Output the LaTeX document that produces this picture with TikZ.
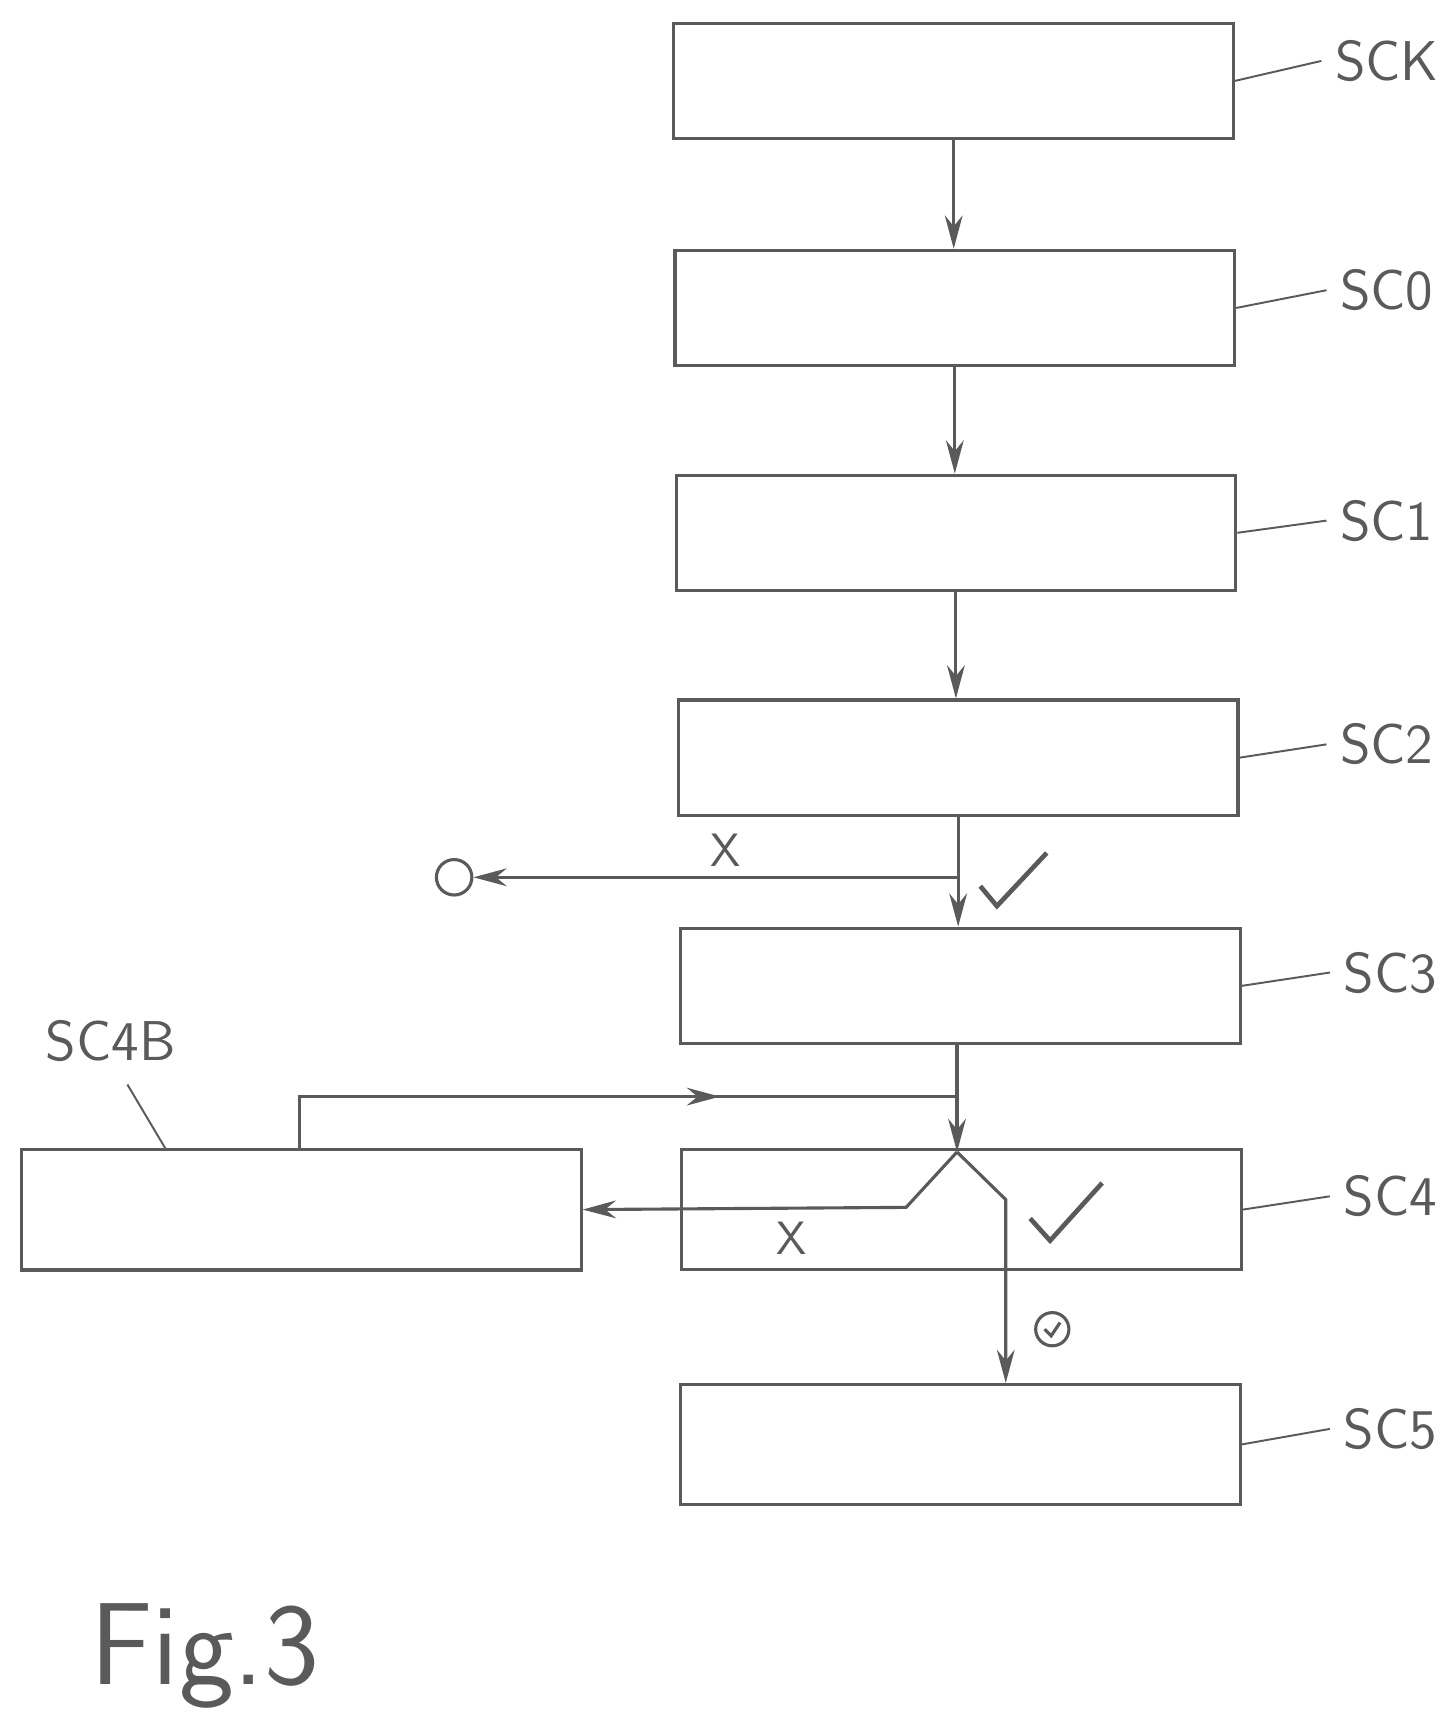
\documentclass[tikz,border=0pt]{standalone}
\usepackage{tikz}
\usetikzlibrary{arrows.meta, positioning}
\definecolor{ink}{RGB}{90, 90, 90}

\begin{document}
\begin{tikzpicture}[
    x=0.01cm, y=-0.01cm,
    box/.style={rectangle, draw=ink, line width=0.8pt, minimum width=5.05cm, minimum height=1.04cm, inner sep=0pt},
    arrow/.style={-{Stealth[length=3mm, width=1.6mm]}, line width=0.8pt, color=ink},
    line/.style={line width=0.8pt, color=ink},
    label/.style={font=\sffamily\Large, color=ink},
    lead/.style={line width=0.5pt, color=ink}
]
\useasboundingbox (0,0) rectangle (1300,1551);

% main column
\node[box] (sck) at (861, 73) {};
\node[box] (sc0) at (862, 278) {};
\node[box] (sc1) at (863, 481) {};
\node[box] (sc2) at (865, 684) {};
\node[box] (sc3) at (867, 890) {};
\node[box, minimum height=1.08cm] (sc4) at (868, 1092) {};
\node[box, minimum height=1.08cm] (sc5) at (867, 1304) {};
\node[box, minimum height=1.09cm] (sc4b) at (272, 1092) {};

% labels
\node[label] (lsck) at (1252, 55) {SCK};
\node[label] (lsc0) at (1252, 262) {SC0};
\node[label] (lsc1) at (1252, 470) {SC1};
\node[label] (lsc2) at (1252, 672) {SC2};
\node[label] (lsc3) at (1255, 878) {SC3};
\node[label] (lsc4) at (1255, 1080) {SC4};
\node[label] (lsc5) at (1255, 1290) {SC5};
\node[label] (lsc4b) at (100, 940) {SC4B};
\foreach \b/\l in {sck/lsck, sc0/lsc0, sc1/lsc1, sc2/lsc2, sc3/lsc3, sc4/lsc4, sc5/lsc5}
  \draw[lead] (\b.east) -- (\l.west);
\draw[lead] (lsc4b.south) ++(15,8) -- (150, 1038);

% vertical flow
\draw[arrow] (sck.south) -- (sc0.north -| sck.south);
\draw[arrow] (sc0.south) -- (sc1.north -| sc0.south);
\draw[arrow] (sc1.south) -- (sc2.north -| sc1.south);
\draw[arrow] (sc2.south) -- (sc3.north -| sc2.south);

% rejection after SC2
\coordinate (split2) at (865, 792);
\node[circle, draw=ink, line width=0.8pt, minimum size=0.32cm, inner sep=0pt] (zero) at (410, 792) {};
\draw[arrow] (split2) -- (zero.east);
\node[label, font=\sffamily\large] (x1) at (655, 768) {X};
\draw[line, line width=1.2pt] (885, 800) -- (900, 818) -- (945, 770);

% SC3 to SC4
\coordinate (fork) at (864, 1040);
\coordinate (loop) at (864, 990);
\draw[arrow] (sc3.south -| fork) -- (fork);
\draw[line] (sc4b.north -| 270, 0) -- (270, 990) -- (loop);
\draw[arrow] (270, 990) -- (650, 990);

% branches in SC4
\draw[arrow] (fork) -- (818, 1090) -- (sc4b.east);
\node[label, font=\sffamily\large] (x2) at (715, 1118) {X};
\draw[arrow] (fork) -- (908, 1083) -- (sc5.north -| 908, 0);
\draw[line, line width=1.2pt] (930, 1100) -- (948, 1120) -- (995, 1068);

% circled check
\node[circle, draw=ink, line width=0.8pt, minimum size=0.3cm, inner sep=0pt] (ok) at (950, 1200) {};
\draw[line] (943, 1200) -- (949, 1206) -- (957, 1194);

\node[font=\sffamily\fontsize{30}{32}\selectfont, color=ink] (fig) at (185, 1495) {Fig.3};
\end{tikzpicture}
\end{document}
